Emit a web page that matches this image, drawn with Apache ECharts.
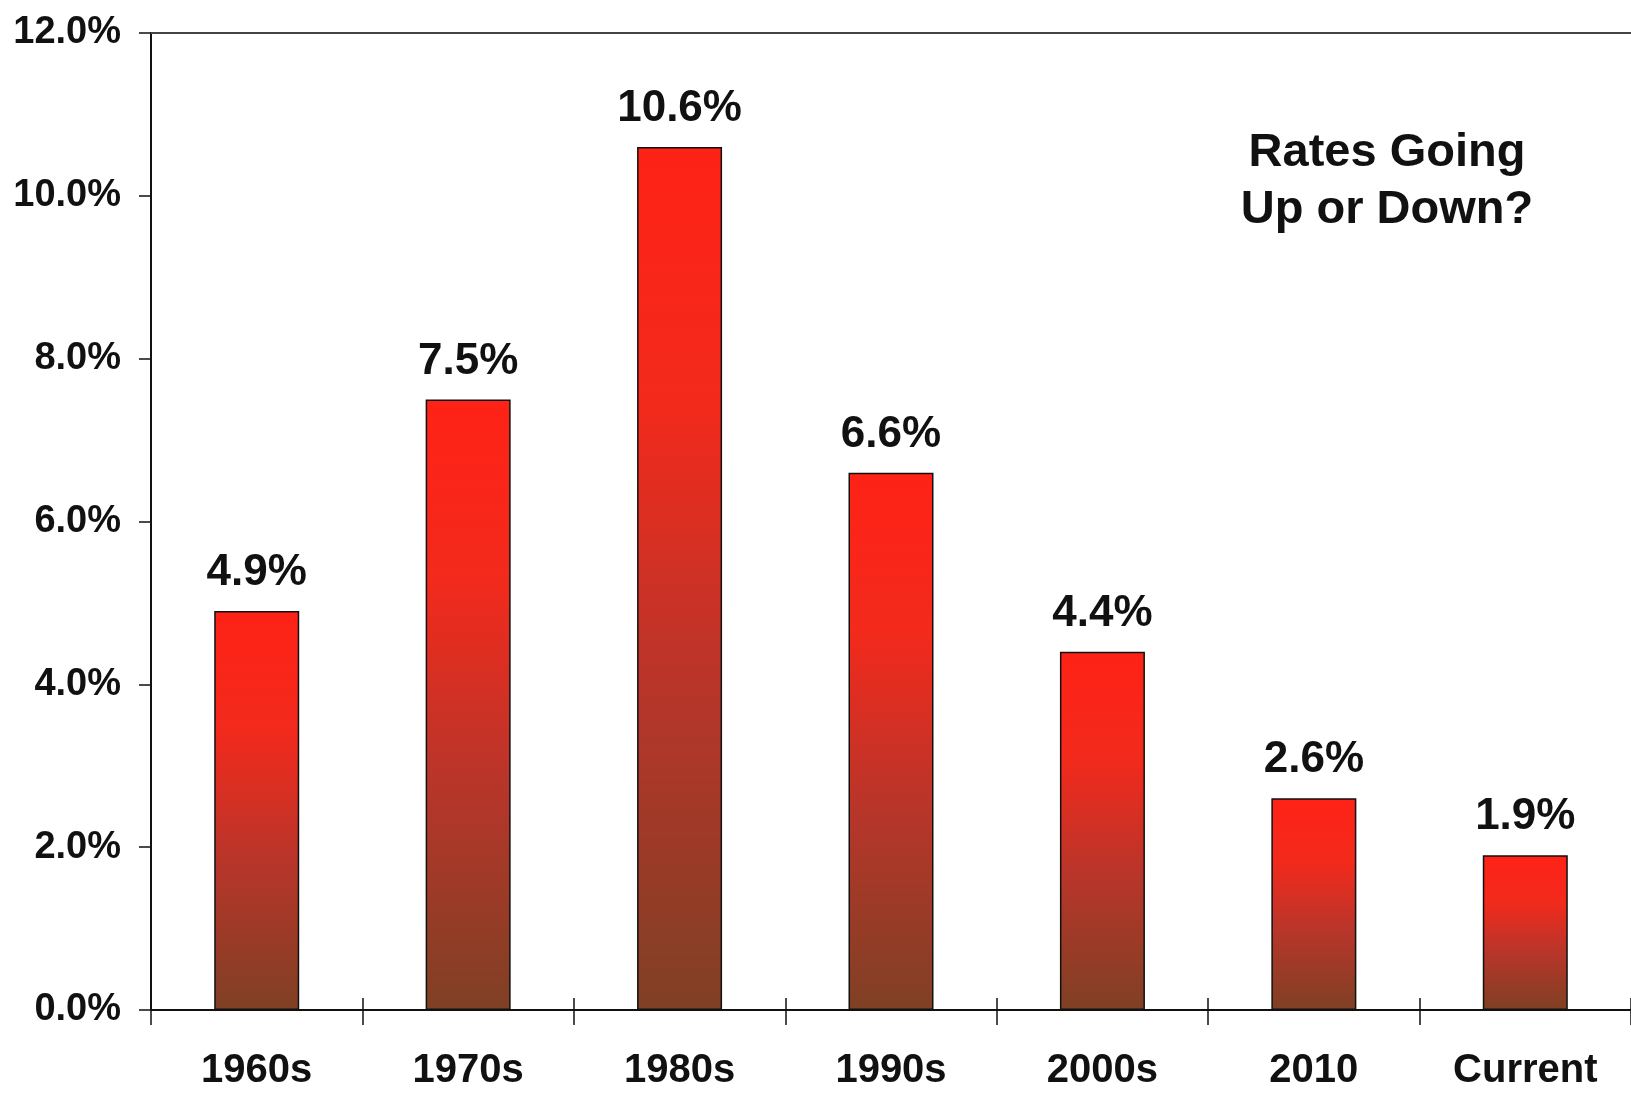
<!DOCTYPE html>
<html>
<head>
<meta charset="utf-8">
<script src="https://cdn.jsdelivr.net/npm/echarts@6/dist/echarts.min.js"></script>
<style>
html,body{margin:0;padding:0;background:#fff;}
#chart{width:1631px;height:1095px;}
</style>
</head>
<body>
<div id="chart"></div>
<script>
const categories = ['1960s', '1970s', '1980s', '1990s', '2000s', '2010', 'Current'];
const rates = [4.9, 7.5, 10.6, 6.6, 4.4, 2.6, 1.9];
const yTicks = [0, 2, 4, 6, 8, 10, 12];
const note = 'Rates Going\nUp or Down?';

const FONT = '"Liberation Sans", Arial, Helvetica, sans-serif';
const chart = echarts.init(document.getElementById('chart'));

const barGradient = new echarts.graphic.LinearGradient(0, 0, 0, 1, [
  { offset: 0, color: '#ff2216' },
  { offset: 0.3, color: '#f22a1c' },
  { offset: 0.62, color: '#b9352a' },
  { offset: 1, color: '#7f4024' }
]);

chart.setOption({
  backgroundColor: '#ffffff',
  animation: false,
  grid: { left: 151, top: 33, width: 1491, bottom: 85 },
  xAxis: [
    {
      type: 'category',
      data: categories,
      position: 'bottom',
      axisLine: { show: true, lineStyle: { color: '#111', width: 2 } },
      axisTick: { show: true, length: 15, lineStyle: { color: '#111', width: 1.5 } },
      axisLabel: {
        color: '#111', fontFamily: FONT, fontWeight: 'bold', fontSize: 40, margin: 41
      }
    },
    {
      type: 'category',
      data: categories,
      position: 'bottom',
      axisLine: { show: false },
      axisTick: { show: true, inside: true, length: 12, lineStyle: { color: '#111', width: 1.5 } },
      axisLabel: { show: false }
    },
    {
      type: 'category',
      data: categories,
      position: 'top',
      axisLine: { show: true, lineStyle: { color: '#444', width: 2 } },
      axisTick: { show: false },
      axisLabel: { show: false }
    }
  ],
  yAxis: {
    type: 'value',
    min: yTicks[0],
    max: yTicks[yTicks.length - 1],
    interval: 2,
    axisLine: { show: true, lineStyle: { color: '#111', width: 2 } },
    axisTick: { show: true, length: 12, lineStyle: { color: '#111', width: 1.5 } },
    splitLine: { show: false },
    axisLabel: {
      color: '#111', fontFamily: FONT, fontWeight: 'bold', fontSize: 38, margin: 30,
      formatter: v => v.toFixed(1) + '%'
    }
  },
  series: [{
    type: 'bar',
    data: rates,
    barWidth: 85,
    itemStyle: { color: barGradient, borderColor: '#111', borderWidth: 1.5 },
    label: {
      show: true,
      position: 'top',
      distance: 16,
      color: '#111',
      fontFamily: FONT,
      fontWeight: 'bold',
      fontSize: 44,
      formatter: p => p.value.toFixed(1) + '%'
    }
  }],
  graphic: [{
    type: 'text',
    left: 1387 - 150,
    top: 125,
    style: {
      text: note,
      x: 150,
      width: 300,
      textAlign: 'center',
      fill: '#111',
      font: 'bold 47px ' + FONT,
      lineHeight: 57
    }
  }]
});
</script>
</body>
</html>
